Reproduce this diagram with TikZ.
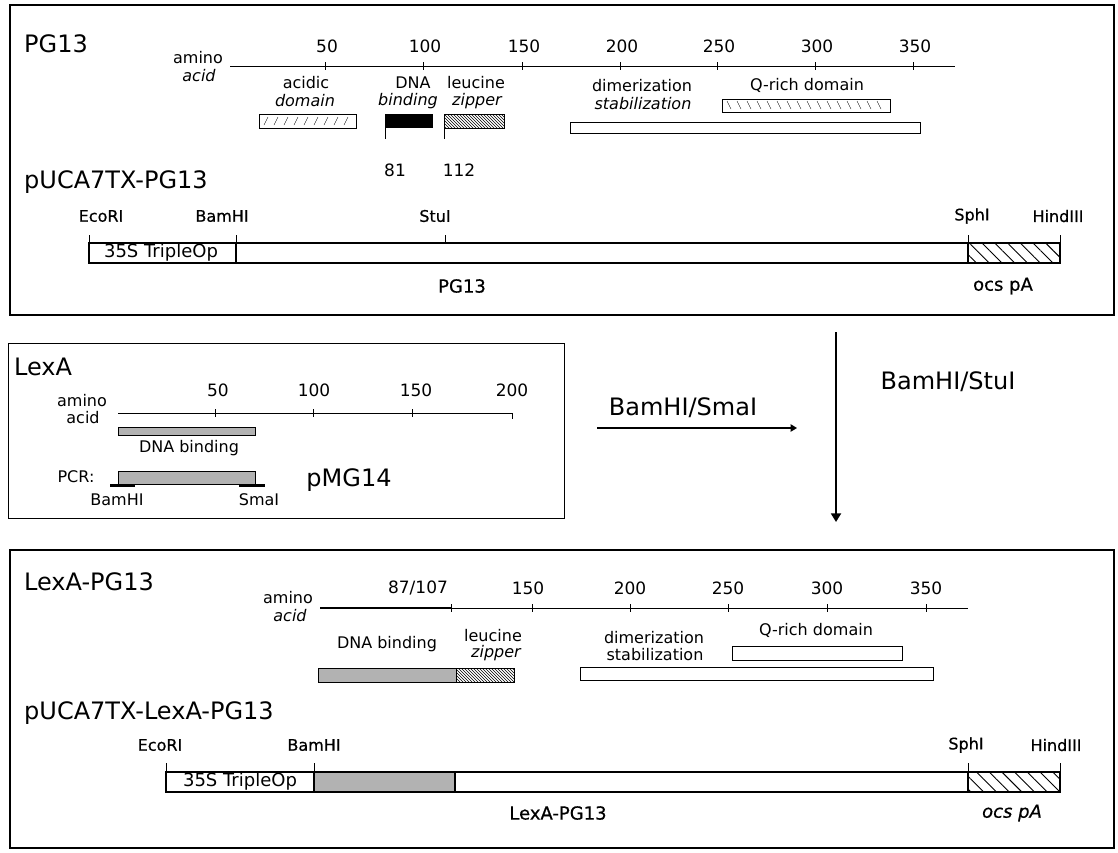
\documentclass[tikz,border=0pt]{standalone}
\usepackage{fontspec}
\setmainfont{DejaVu Sans}
\newfontfamily\medfont[FakeBold=0.6]{DejaVu Sans}
\usetikzlibrary{arrows.meta,positioning,calc,patterns,patterns.meta}

\begin{document}
\begin{tikzpicture}[
    x=1pt, y=-1pt,
    >=Triangle,
    panel/.style={draw, line width=1.8pt},
    lexbox/.style={draw, line width=0.9pt},
    axisline/.style={line width=0.9pt},
    tic/.style={line width=0.8pt},
    dom/.style={draw, line width=0.9pt},
    gene/.style={draw, line width=1.8pt},
    lab/.style={font=\fontsize{16}{17}\selectfont, inner sep=0pt},
    labit/.style={font=\fontsize{16}{17}\selectfont\itshape, inner sep=0pt},
    num/.style={font=\fontsize{17}{18}\selectfont, inner sep=0pt},
    enz/.style={font=\medfont\fontsize{16}{17}\selectfont, inner sep=0pt},
    glab/.style={font=\medfont\fontsize{18}{19}\selectfont, inner sep=0pt},
    promlab/.style={font=\fontsize{18}{19}\selectfont, inner sep=0pt},
    ttl/.style={font=\fontsize{24}{26}\selectfont, anchor=west, inner sep=0pt},
    big/.style={font=\fontsize{24}{26}\selectfont, inner sep=0pt},
    lexfill/.style={fill=black!30},
    ocsfill/.style={pattern={Lines[angle=-45,distance=9pt,line width=0.9pt]}}
]
\useasboundingbox (0,0) rectangle (1118,852);

% PG13 panel
\draw[panel] (10,5) rectangle (1114,315);
\node[ttl] (pgtitle) at (24,44) {PG13};
\node[lab] (amino1) at (198,58) {amino};
\node[labit] (acid1) at (199,76) {acid};
\draw[axisline] (230,66) -- (955,66);
\foreach \n/\x in {50/325,100/423,150/522,200/620,250/717,300/815,350/913}{
  \draw[tic] (\x,62) -- (\x,70);
  \node[num] (ta\n) at (\x+2,46) {\n};
}
\node[lab] (acidic) at (306,83) {acidic};
\node[labit] (acidicb) at (305,101) {domain};
\node[lab] (dnaa) at (413,83) {DNA};
\node[labit] (dnab) at (408,101) {binding};
\node[lab] (leua) at (476,83) {leucine};
\node[labit] (leub) at (477,101) {zipper};
\node[lab] (dima) at (642,86) {dimerization};
\node[labit] (dimb) at (643,104) {stabilization};
\node[lab] (qrich) at (807,85) {Q-rich domain};
\draw[dom] (259,114) rectangle (356,128);
\foreach \x in {264,274,...,348} \draw[thin] (\x,125) -- (\x+4,117);
\fill (385,114) rectangle (433,128);
\draw[tic] (385,128) -- (385,139);
\draw[dom, pattern=north west lines] (444,114) rectangle (504,128);
\draw[tic] (444,128) -- (444,139);
\node[num] (aa81) at (395,170) {81};
\node[num] (aa112) at (459,170) {112};
\draw[dom] (722,99) rectangle (890,112);
\foreach \x in {727,737,...,882} \draw[thin] (\x,101) -- (\x+4,109);
\draw[dom] (570,122) rectangle (920,133);

\node[ttl] (pucatitle) at (24,182) {pUCA7TX-PG13};
\fill[ocsfill] (968,243) rectangle (1060,263);
\draw[gene] (89,243) rectangle (1060,263);
\draw[gene] (236,243) -- (236,263);
\draw[gene] (968,243) -- (968,263);
\node[promlab] (prom1) at (161,253) {35S TripleOp};
\foreach \x in {89,236,445,968,1060} \draw[tic] (\x,243) -- (\x,235);
\node[enz] (eco1) at (101,216) {EcoRI};
\node[enz] (bam1) at (222,216) {BamHI};
\node[enz] (stu1) at (435,216) {StuI};
\node[enz] (sph1) at (972,216) {SphI};
\node[enz] (hind1) at (1058,216) {HindIII};
\node[glab] (pglab) at (462,286) {PG13};
\node[glab] (ocs1) at (1003,286) {ocs pA};

% LexA panel
\draw[lexbox] (8,343) rectangle (564,518);
\node[ttl] (lextitle) at (14,367) {LexA};
\node[lab] (amino2) at (82,401) {amino};
\node[lab] (acid2) at (83,418) {acid};
\draw[axisline] (118,413) -- (512,413) -- (512,419);
\foreach \x in {215,313,412}{
  \draw[tic] (\x,409) -- (\x,417);
}
\foreach \n/\x in {50/218,100/314,150/416,200/512}{
  \node[num] (tl\n) at (\x,390) {\n};
}
\draw[dom, lexfill] (118,427) rectangle (255,435);
\node[lab] (lexdna) at (189,448) {DNA binding};
\node[lab] (pcr) at (76,477) {PCR:};
\draw[dom, lexfill] (118,471) rectangle (255,484);
\draw[line width=3pt] (110,485) -- (135,485);
\draw[line width=3pt] (239,485) -- (265,485);
\node[lab] (bam2) at (117,500) {BamHI};
\node[lab] (sma2) at (259,500) {SmaI};
\node[big] (pmg) at (349,480) {pMG14};

% cloning arrows
\coordinate (hs) at (597,428);
\coordinate (he) at (797,428);
\draw[->, line width=1.3pt] (hs) -- (he);
\node[big] (bamsma) at (683,408) {BamHI/SmaI};
\coordinate (vs) at (836,332);
\coordinate (ve) at (836,522);
\draw[->, line width=2pt] (vs) -- (ve);
\node[big] (bamstu) at (948,382) {BamHI/StuI};

% LexA-PG13 panel
\draw[panel] (10,550) rectangle (1114,848);
\node[ttl] (lpgtitle) at (24,582) {LexA-PG13};
\node[lab] (amino3) at (288,598) {amino};
\node[labit] (acid3) at (290,616) {acid};
\draw[line width=2pt] (320,608) -- (451,608);
\draw[axisline] (451,608) -- (968,608);
\foreach \x in {451,532,630,728,827,926} \draw[tic] (\x,604) -- (\x,612);
\foreach \n/\t/\x in {a/{87/107}/418,b/150/528,c/200/630,d/250/728,e/300/827,f/350/926}{
  \node[num] (tb\n) at (\x,588) {\t};
}
\node[lab] (dnab3) at (387,644) {DNA binding};
\node[lab] (leua3) at (493,636) {leucine};
\node[labit] (leub3) at (496,653) {zipper};
\node[lab] (dima3) at (654,638) {dimerization};
\node[lab] (dimb3) at (655,655) {stabilization};
\node[lab] (qrich3) at (816,630) {Q-rich domain};
\draw[dom, lexfill] (318,668) rectangle (456,682);
\draw[dom, pattern=north west lines] (456,668) rectangle (514,682);
\draw[dom] (732,646) rectangle (902,660);
\draw[dom] (580,667) rectangle (933,680);

\node[ttl] (puclexttl) at (24,713) {pUCA7TX-LexA-PG13};
\fill[lexfill] (314,772) rectangle (455,792);
\fill[ocsfill] (968,772) rectangle (1060,792);
\draw[gene] (166,772) rectangle (1060,792);
\foreach \x in {314,455,968} \draw[gene] (\x,772) -- (\x,792);
\node[promlab] (prom3) at (240,782) {35S TripleOp};
\foreach \x in {166,314,968,1060} \draw[tic] (\x,772) -- (\x,763);
\node[enz] (eco3) at (160,745) {EcoRI};
\node[enz] (bam3) at (314,745) {BamHI};
\node[enz] (sph3) at (966,745) {SphI};
\node[enz] (hind3) at (1056,745) {HindIII};
\node[glab] (lpglab) at (558,813) {LexA-PG13};
\node[glab, font=\medfont\fontsize{18}{19}\selectfont\itshape] (ocs3) at (1012,813) {ocs pA};
\end{tikzpicture}
\end{document}
